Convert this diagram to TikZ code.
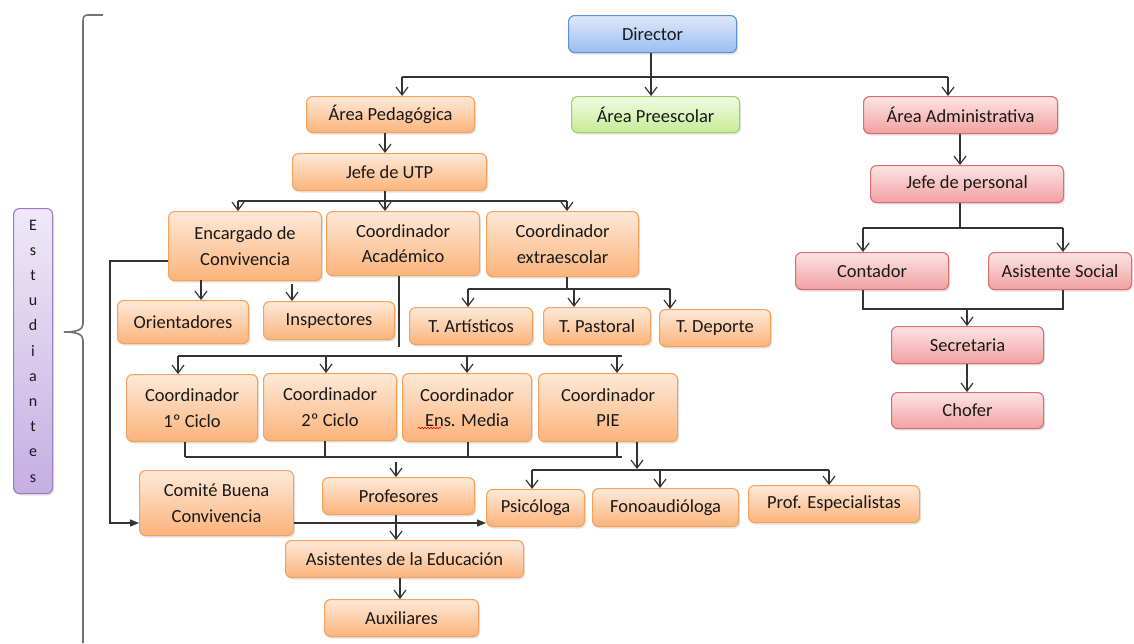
\documentclass[tikz,border=0pt]{standalone}
\usepackage{fontspec}
\setmainfont{Carlito}
\usetikzlibrary{arrows.meta,shadows,decorations.pathmorphing}
\definecolor{orgtop}{HTML}{FEE9D8}
\definecolor{orgbot}{HTML}{FBB37A}
\definecolor{orgline}{HTML}{F5A25D}
\definecolor{bluetop}{HTML}{DDE9FB}
\definecolor{bluebot}{HTML}{9BBEF0}
\definecolor{blueline}{HTML}{5E8FD8}
\definecolor{grntop}{HTML}{F1FBE2}
\definecolor{grnbot}{HTML}{C6EB96}
\definecolor{grnline}{HTML}{9FCF66}
\definecolor{redtop}{HTML}{FDE4E4}
\definecolor{redbot}{HTML}{F2A0A0}
\definecolor{redline}{HTML}{D6706F}
\definecolor{purtop}{HTML}{EFE8F8}
\definecolor{purbot}{HTML}{C5AFE2}
\definecolor{purline}{HTML}{9A7CC4}
\definecolor{linec}{HTML}{333333}
\newcommand\bx[6]{\node[#1, anchor=north west, minimum width={#4pt-#2pt}, minimum height={#5pt-#3pt}] (#6) at (#2,#3)}
\begin{document}
\begin{tikzpicture}[x=1pt,y=-1pt,
  box/.style={rounded corners=6pt, line width=1.1pt, inner sep=0pt, align=center,
    font=\fontsize{18.5}{25.5}\selectfont, text=black!90,
    drop shadow={shadow xshift=1.5pt, shadow yshift=-2pt, opacity=0.22}},
  obox/.style={box, draw=orgline, top color=orgtop, bottom color=orgbot},
  bbox/.style={box, draw=blueline, top color=bluetop, bottom color=bluebot},
  gbox/.style={box, draw=grnline, top color=grntop, bottom color=grnbot},
  rbox/.style={box, draw=redline, top color=redtop, bottom color=redbot},
  pbox/.style={box, draw=purline, top color=purtop, bottom color=purbot, font=\fontsize{16}{25.2}\selectfont},
  conn/.style={draw=linec, line width=1.2pt},
  arr/.style={conn, -{Straight Barb[length=8pt,width=12pt]}},
  farr/.style={conn, -{Triangle[length=9pt,width=7pt]}},
  brace/.style={draw=black!55, line width=1.6pt}
]
\useasboundingbox[fill=white] (0,0) rectangle (1134,643);

% brace
\draw[brace] (103,15) -- (88,15) .. controls (84,15) and (83,17) .. (83,21) -- (83,324)
  .. controls (83,330) and (76,332) .. (64,332) .. controls (76,332) and (83,334) .. (83,340) -- (83,643);

% nodes
\bx{pbox}{13}{208}{52}{493}{est} {E\\s\\t\\u\\d\\i\\a\\n\\t\\e\\s};
\bx{bbox}{568}{15}{736}{52}{dir} {Director};
\bx{obox}{306}{96}{474}{132}{ped} {Área Pedagógica};
\bx{gbox}{571}{96}{739}{132}{pre} {Área Preescolar};
\bx{rbox}{863}{96}{1057}{133}{adm} {Área Administrativa};
\bx{obox}{292}{153}{486}{190}{utp} {Jefe de UTP};
\bx{rbox}{870}{165}{1063}{202}{jper} {Jefe de personal};
\bx{obox}{168}{211}{321}{280}{enc} {Encargado de\\Convivencia};
\bx{obox}{326}{211}{479}{275}{cac} {Coordinador\\Académico};
\bx{obox}{486}{211}{638}{276}{cex} {Coordinador\\extraescolar};
\bx{obox}{117}{300}{248}{343}{ori} {Orientadores};
\bx{obox}{263}{301}{394}{339}{ins} {Inspectores};
\bx{obox}{409}{307}{532}{344}{tar} {T. Artísticos};
\bx{obox}{543}{307}{650}{344}{tpa} {T. Pastoral};
\bx{obox}{659}{309}{770}{346}{tde} {T. Deporte};
\bx{rbox}{795}{252}{948}{289}{con} {Contador};
\bx{rbox}{988}{252}{1131}{289}{aso} {Asistente Social};
\bx{rbox}{891}{326}{1043}{363}{sec} {Secretaria};
\bx{rbox}{891}{392}{1043}{428}{cho} {Chofer};
\bx{obox}{126}{374}{257}{441}{ca} {Coordinador\\1º Ciclo};
\bx{obox}{263}{373}{396}{440}{cb} {Coordinador\\2º Ciclo};
\bx{obox}{402}{373}{531}{441}{cc} {Coordinador\\Ens. Media};
\bx{obox}{538}{373}{677}{441}{cd} {Coordinador\\PIE};
\bx{obox}{139}{470}{293}{535}{com} {Comité Buena\\Convivencia};
\bx{obox}{322}{477}{474}{514}{pro} {Profesores};
\bx{obox}{486}{489}{584}{526}{psi} {Psicóloga};
\bx{obox}{592}{488}{738}{526}{fon} {Fonoaudióloga};
\bx{obox}{748}{485}{919}{522}{pes} {Prof. Especialistas};
\bx{obox}{285}{540}{523}{577}{ase} {Asistentes de la Educación};
\bx{obox}{324}{599}{478}{636}{aux} {Auxiliares};

% spell-check squiggle
\draw[red, line width=0.6pt, decorate, decoration={snake, amplitude=0.8pt, segment length=3pt}] (418,428) -- (441,428);

% junction coordinates
\coordinate (jd) at (651,77);
\coordinate (jl) at (402,77);
\coordinate (jr) at (948,77);
\coordinate (ju) at (385,201);
\coordinate (ju1) at (238,201);
\coordinate (ju2) at (567,201);
\coordinate (je1) at (201,280);
\coordinate (je2) at (292,284);
\coordinate (jx) at (567,289);
\coordinate (jx1) at (468,289);
\coordinate (jx2) at (574,289);
\coordinate (jx3) at (670,289);
\coordinate (ja) at (399,347);
\coordinate (jc1) at (178,356);
\coordinate (jc2) at (326,356);
\coordinate (jc3) at (467,356);
\coordinate (jc4) at (617,356);
\coordinate (jc5) at (622,356);
\coordinate (jb1) at (185,457);
\coordinate (jb2) at (325,457);
\coordinate (jb3) at (468,457);
\coordinate (jb4) at (617,457);
\coordinate (jb5) at (622,457);
\coordinate (jp) at (396,462);
\coordinate (jq) at (637,469);
\coordinate (jq1) at (532,470);
\coordinate (jq2) at (660,470);
\coordinate (jq3) at (829,470);
\coordinate (k1) at (110,261);
\coordinate (k2) at (110,523);
\coordinate (ka) at (400,577);
\coordinate (jn) at (960,228);
\coordinate (jn1) at (863,228);
\coordinate (jn2) at (1063,228);
\coordinate (js) at (967,309);
\coordinate (js1) at (863,309);
\coordinate (js2) at (1063,309);

% Director level
\draw[arr] (dir.south -| jd) -- (pre.north -| jd);
\draw[conn] (jl) -- (jr);
\draw[arr] (jl) -- (jl |- ped.north);
\draw[arr] (jr) -- (jr |- adm.north);

% pedagogical branch
\draw[arr] (ped.south -| ju) -- (utp.north -| ju);
\draw[conn] (utp.south -| ju) -- (ju);
\draw[conn] (ju1) -- (ju2);
\draw[arr] (ju) -- (ju |- cac.north);
\draw[arr] (ju1) -- (ju1 |- enc.north);
\draw[arr] (ju2) -- (ju2 |- cex.north);
\draw[arr] (je1) -- (je1 |- ori.north);
\draw[arr] (je2) -- (je2 |- ins.north);
\draw[conn] (cex.south -| jx) -- (jx);
\draw[conn] (jx1) -- (jx3);
\draw[arr] (jx1) -- (jx1 |- tar.north);
\draw[arr] (jx2) -- (jx2 |- tpa.north);
\draw[arr] (jx3) -- (jx3 |- tde.north);
\draw[conn] (cac.south -| ja) -- (ja);
\draw[conn] (jc1) -- (jc5);
\draw[arr] (jc1) -- (jc1 |- ca.north);
\draw[arr] (jc2) -- (jc2 |- cb.north);
\draw[arr] (jc3) -- (jc3 |- cc.north);
\draw[arr] (jc4) -- (jc4 |- cd.north);
\draw[conn] (ca.south -| jb1) -- (jb1);
\draw[conn] (cb.south -| jb2) -- (jb2);
\draw[conn] (cc.south -| jb3) -- (jb3);
\draw[conn] (cd.south -| jb4) -- (jb4);
\draw[conn] (jb1) -- (jb5);
\draw[arr] (jp) -- (jp |- pro.north);
\draw[arr] (cd.south -| jq) -- (jq);
\draw[conn] (jq1) -- (jq3);
\draw[arr] (jq1) -- (jq1 |- psi.north);
\draw[arr] (jq2) -- (jq2 |- fon.north);
\draw[arr] (jq3) -- (jq3 |- pes.north);
\draw[farr] (enc.west |- k1) -- (k1) -- (k2) -- (k2 -| com.west);
\draw[farr] (com.east |- k2) -- (psi.west |- k2);
\draw[arr] (pro.south -| jp) -- (ase.north -| jp);
\draw[arr] (ase.south -| ka) -- (aux.north -| ka);

% administrative branch
\draw[arr] (adm.south -| jn) -- (jper.north -| jn);
\draw[conn] (jper.south -| jn) -- (jn);
\draw[conn] (jn1) -- (jn2);
\draw[arr] (jn1) -- (jn1 |- con.north);
\draw[arr] (jn2) -- (jn2 |- aso.north);
\draw[conn] (con.south -| js1) -- (js1) -- (js2) -- (aso.south -| js2);
\draw[arr] (js) -- (js |- sec.north);
\draw[arr] (sec.south -| js) -- (cho.north -| js);
\end{tikzpicture}
\end{document}
